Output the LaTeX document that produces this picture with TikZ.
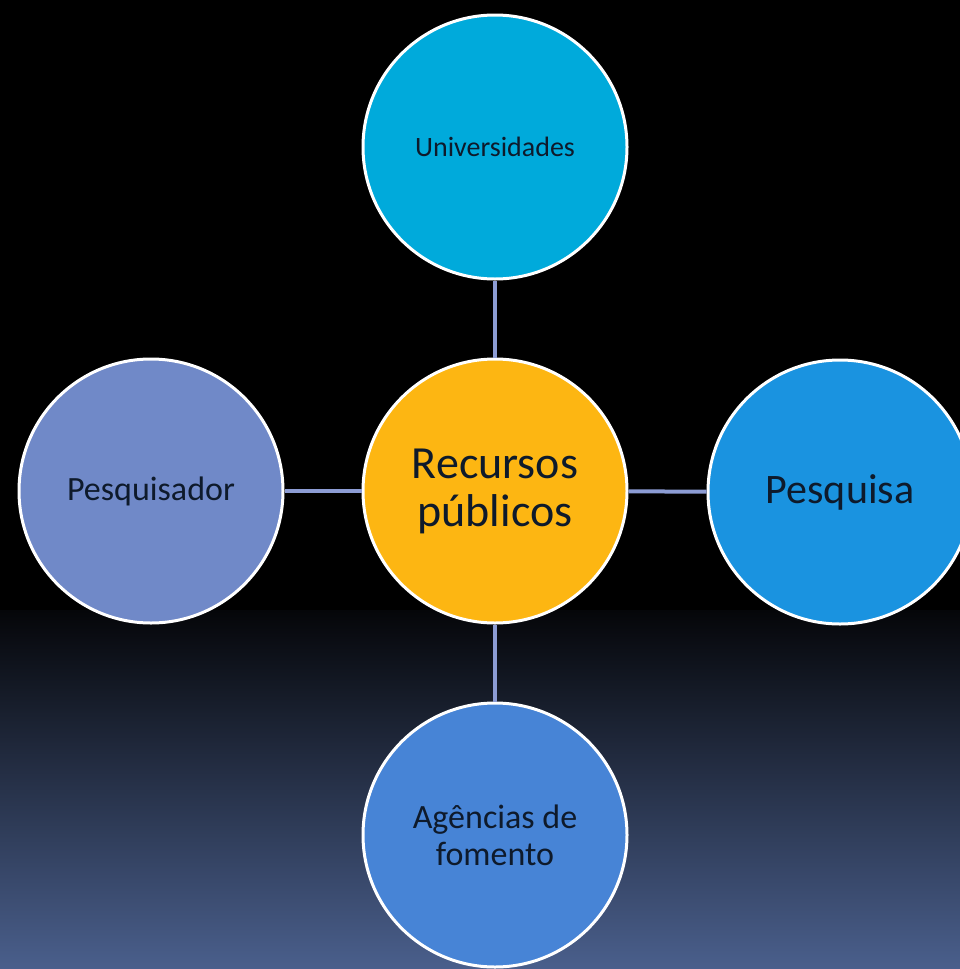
\documentclass[tikz,border=0pt]{standalone}
\usepackage{fontspec}
\setmainfont{Carlito}
\usepackage{tikz}
\usetikzlibrary{positioning}

\definecolor{recyellow}{HTML}{FDB612}
\definecolor{univblue}{HTML}{00AADB}
\definecolor{pesqblue}{HTML}{1A93E0}
\definecolor{agenblue}{HTML}{4784D6}
\definecolor{pesqrblue}{HTML}{7089C8}
\definecolor{linkgray}{HTML}{8C9CD4}
\definecolor{txtnavy}{HTML}{0E1A2B}
\definecolor{bgtop}{HTML}{050609}
\definecolor{bgbottom}{HTML}{4A5F8C}

\begin{document}
\begin{tikzpicture}[x=1pt,y=-1pt,
    bubble/.style={circle,draw=white,line width=3pt,minimum size=264pt,
      inner sep=0pt,text=txtnavy,align=center},
    link/.style={draw=linkgray,line width=4pt}]
      \clip (0,0) rectangle (960,969);
      % background
      \fill[black] (0,0) rectangle (960,969);
      \shade[top color=bgtop,bottom color=bgbottom] (0,610) rectangle (960,969);
      \node[bubble,fill=recyellow,font=\fontsize{46}{48}\selectfont] (rec) at (495,491)
        {Recursos\\p\'ublicos};
      \node[bubble,fill=univblue,font=\fontsize{28}{30}\selectfont] (univ) at (495,147)
        {Universidades};
      \node[bubble,fill=pesqblue,font=\fontsize{42}{48}\selectfont] (pesq) at (840,492)
        {Pesquisa};
      \node[bubble,fill=agenblue,font=\fontsize{34}{37}\selectfont] (agen) at (495,835)
        {Ag\^encias de\\fomento};
      \node[bubble,fill=pesqrblue,font=\fontsize{34}{36}\selectfont] (pesqr) at (151,491)
        {Pesquisador};
      \draw [link] (rec) -- (univ);
      \draw [link] (rec) -- (pesq);
      \draw [link] (rec) -- (agen);
      \draw [link] (rec) -- (pesqr);
    \end{tikzpicture}
\end{document}
